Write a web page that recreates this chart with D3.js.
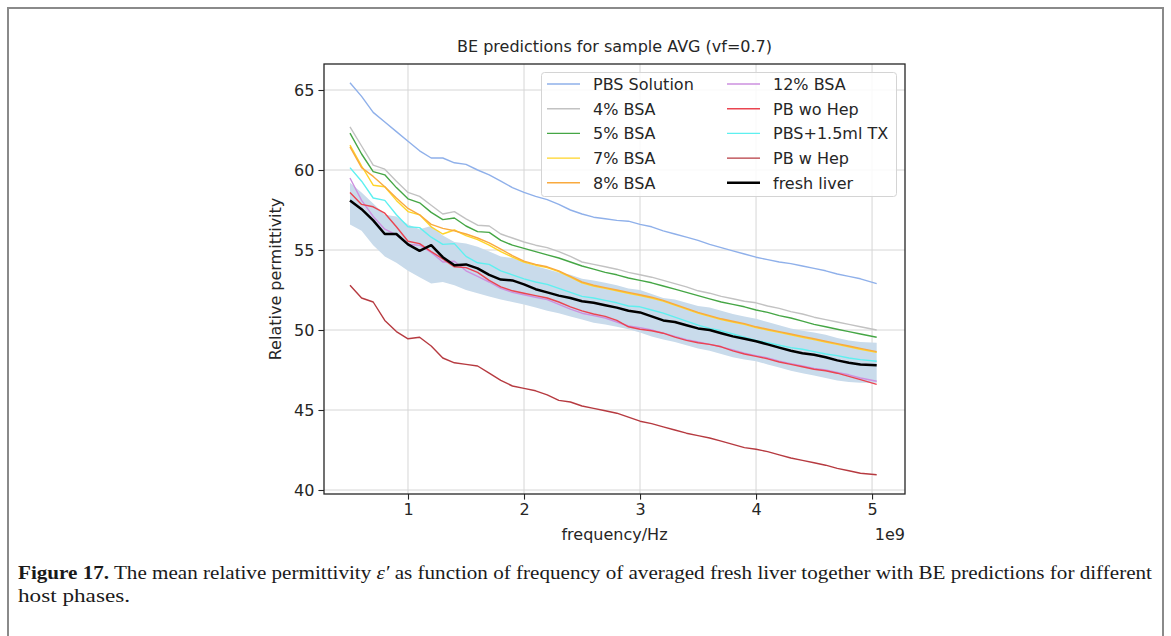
<!DOCTYPE html>
<html>
<head>
<meta charset="utf-8">
<script src="https://cdn.jsdelivr.net/npm/d3@7"></script>
<style>
  html, body { margin: 0; padding: 0; background: #fff; }
  svg { display: block; }
  text { font-family: "DejaVu Sans", sans-serif; fill: #262626; }
  .caption text, text.caption { font-family: "Liberation Serif", "DejaVu Serif", serif; fill: #1a1a1a; }
</style>
</head>
<body>
<div id="chart"></div>
<script>
// frequency in units of 1e9 Hz
var freq = [0.5, 0.6, 0.7, 0.8, 0.9, 1.0, 1.1, 1.2, 1.3, 1.4,
  1.5, 1.6, 1.7, 1.8, 1.9, 2.0, 2.1, 2.2, 2.3, 2.4,
  2.5, 2.6, 2.7, 2.8, 2.9, 3.0, 3.1, 3.2, 3.3, 3.4,
  3.5, 3.6, 3.7, 3.8, 3.9, 4.0, 4.1, 4.2, 4.3, 4.4,
  4.5, 4.6, 4.7, 4.8, 4.9, 5.04];

var pbsSolution = [65.45, 64.6, 63.6, 63.0, 62.4, 61.8, 61.2, 60.75, 60.75, 60.45,
  60.35, 60.0, 59.7, 59.3, 58.9, 58.6, 58.35, 58.15, 57.85, 57.5,
  57.25, 57.05, 56.95, 56.85, 56.8, 56.6, 56.45, 56.2, 56.0, 55.8,
  55.6, 55.35, 55.15, 54.95, 54.75, 54.55, 54.4, 54.25, 54.15, 54.0,
  53.85, 53.7, 53.5, 53.35, 53.2, 52.9];
var bsa4 = [62.7, 61.5, 60.3, 60.05, 59.3, 58.6, 58.35, 57.8, 57.25, 57.4,
  56.95, 56.55, 56.5, 56.0, 55.75, 55.5, 55.3, 55.15, 54.9, 54.6,
  54.25, 54.1, 53.95, 53.8, 53.6, 53.45, 53.3, 53.1, 52.9, 52.7,
  52.45, 52.3, 52.1, 51.95, 51.8, 51.7, 51.5, 51.35, 51.15, 51.0,
  50.8, 50.65, 50.5, 50.35, 50.2, 50.0];
var bsa5 = [62.3, 61.0, 59.9, 59.7, 58.9, 58.2, 57.95, 57.35, 56.9, 57.0,
  56.5, 56.15, 56.1, 55.6, 55.3, 55.1, 54.9, 54.7, 54.5, 54.25,
  54.0, 53.8, 53.6, 53.45, 53.25, 53.1, 52.95, 52.75, 52.55, 52.35,
  52.15, 51.95, 51.75, 51.6, 51.45, 51.25, 51.1, 50.9, 50.75, 50.55,
  50.35, 50.2, 50.05, 49.9, 49.75, 49.55];
var bsa7 = [61.55, 60.25, 59.05, 58.95, 58.1, 57.4, 57.2, 56.45, 56.0, 56.25,
  55.9, 55.65, 55.3, 54.9, 54.55, 54.25, 54.05, 53.9, 53.65, 53.3,
  52.95, 52.75, 52.6, 52.45, 52.3, 52.15, 52.0, 51.8, 51.55, 51.3,
  51.05, 50.85, 50.65, 50.5, 50.35, 50.15, 50.0, 49.85, 49.7, 49.55,
  49.4, 49.25, 49.1, 48.95, 48.8, 48.6];
var bsa8 = [61.45, 60.15, 59.6, 58.95, 58.25, 57.6, 57.2, 56.6, 56.35, 56.2,
  56.0, 55.75, 55.45, 55.05, 54.65, 54.3, 54.1, 53.95, 53.7, 53.35,
  53.0, 52.8, 52.65, 52.5, 52.35, 52.2, 52.05, 51.85, 51.6, 51.35,
  51.1, 50.9, 50.7, 50.55, 50.4, 50.2, 50.05, 49.9, 49.75, 49.6,
  49.45, 49.3, 49.15, 49.0, 48.85, 48.65];
var bsa12 = [59.5, 58.1, 57.1, 56.3, 55.95, 55.35, 55.3, 54.85, 54.25, 54.3,
  53.7, 53.35, 53.0, 52.6, 52.35, 52.2, 52.05, 51.9, 51.6, 51.3,
  51.05, 50.9, 50.75, 50.5, 50.25, 50.15, 50.0, 49.8, 49.6, 49.4,
  49.25, 49.1, 48.95, 48.75, 48.55, 48.4, 48.25, 48.05, 47.9, 47.75,
  47.6, 47.5, 47.35, 47.2, 47.0, 46.8];
var pbWoHep = [58.6, 57.85, 57.7, 57.3, 56.45, 55.55, 55.4, 54.9, 54.45, 53.95,
  53.9, 53.6, 53.1, 52.7, 52.45, 52.3, 52.15, 52.0, 51.75, 51.45,
  51.2, 51.0, 50.85, 50.6, 50.2, 50.05, 49.95, 49.8, 49.55, 49.35,
  49.2, 49.1, 48.95, 48.7, 48.5, 48.35, 48.2, 48.0, 47.85, 47.7,
  47.55, 47.45, 47.3, 47.1, 46.9, 46.6];
var pbsTx = [60.15, 59.3, 58.25, 58.1, 57.2, 56.45, 56.4, 55.8, 55.35, 55.4,
  54.6, 54.2, 54.1, 53.7, 53.45, 53.2, 53.0, 52.85, 52.6, 52.35,
  52.1, 52.0, 51.85, 51.7, 51.5, 51.45, 51.25, 51.05, 50.8, 50.55,
  50.3, 50.1, 49.95, 49.75, 49.55, 49.35, 49.2, 49.05, 48.9, 48.8,
  48.65, 48.5, 48.4, 48.25, 48.15, 48.05];
var pbWHep = [52.8, 52.0, 51.75, 50.6, 49.9, 49.45, 49.55, 49.0, 48.25, 47.95,
  47.85, 47.75, 47.3, 46.85, 46.5, 46.35, 46.2, 45.95, 45.6, 45.5,
  45.25, 45.1, 44.95, 44.8, 44.55, 44.3, 44.15, 43.95, 43.75, 43.55,
  43.4, 43.25, 43.05, 42.85, 42.65, 42.55, 42.4, 42.2, 42.0, 41.85,
  41.7, 41.55, 41.35, 41.2, 41.05, 40.95];
var freshLiver = [58.1, 57.55, 56.85, 56.0, 56.0, 55.35, 54.95, 55.3, 54.55, 54.05,
  54.1, 53.85, 53.45, 53.15, 53.1, 52.85, 52.55, 52.35, 52.15, 52.0,
  51.8, 51.7, 51.55, 51.4, 51.2, 51.1, 50.85, 50.6, 50.5, 50.3,
  50.1, 50.0, 49.8, 49.6, 49.45, 49.3, 49.1, 48.9, 48.7, 48.55,
  48.45, 48.3, 48.1, 47.95, 47.85, 47.8];
// spread of the measured liver (shaded band)
var liverUpper = [59.2, 58.6, 57.9, 57.2, 57.1, 56.6, 56.3, 56.5, 55.9, 55.5,
  55.4, 55.2, 54.9, 54.6, 54.5, 54.25, 54.0, 53.8, 53.6, 53.45,
  53.2, 53.1, 52.95, 52.8, 52.6, 52.5, 52.25, 52.0, 51.9, 51.7,
  51.5, 51.4, 51.2, 51.0, 50.85, 50.7, 50.5, 50.3, 50.1, 49.95,
  49.85, 49.7, 49.5, 49.35, 49.25, 49.2];
var liverLower = [56.6, 56.2, 55.3, 54.6, 54.2, 53.7, 53.3, 52.9, 53.0, 52.8,
  52.5, 52.3, 52.1, 51.9, 51.75, 51.6, 51.4, 51.2, 51.05, 50.85,
  50.65, 50.45, 50.35, 50.2, 50.05, 49.85, 49.6, 49.4, 49.25, 49.05,
  48.85, 48.7, 48.5, 48.3, 48.15, 48.05, 47.85, 47.65, 47.45, 47.3,
  47.15, 47.0, 46.85, 46.75, 46.7, 46.7];

var seriesNames = ["PBS Solution", "4% BSA", "5% BSA", "7% BSA", "8% BSA",
  "12% BSA", "PB wo Hep", "PBS+1.5ml TX", "PB w Hep", "fresh liver"];
var seriesValues = [pbsSolution, bsa4, bsa5, bsa7, bsa8, bsa12, pbWoHep, pbsTx, pbWHep, freshLiver];
var seriesColors = ["#8fb0ea", "#c2c2c2", "#45a645", "#ffd426", "#f9aa3e",
  "#cd90df", "#ea4450", "#5ef0f0", "#b63a40", "#000000"];

var xTicks = [1, 2, 3, 4, 5];
var yTicks = [40, 45, 50, 55, 60, 65];

var W = 1171, H = 636;
var svg = d3.select("#chart").append("svg")
  .attr("width", W)
  .attr("height", H);

// outer figure frame
svg.append("rect")
  .attr("x", 8).attr("y", 8)
  .attr("width", 1155).attr("height", 700)
  .attr("fill", "none")
  .attr("stroke", "#8a8a8a")
  .attr("stroke-width", 2);

var plot = {left: 324, right: 905, top: 64, bottom: 494};

var x = d3.scaleLinear().domain([0.276, 5.284]).range([plot.left, plot.right]);
var y = d3.scaleLinear().domain([39.75, 66.625]).range([plot.bottom, plot.top]);

var g = svg.append("g");

// grid
g.selectAll(".gx").data(xTicks).enter().append("line")
  .attr("x1", function(d) { return x(d); }).attr("x2", function(d) { return x(d); })
  .attr("y1", plot.top).attr("y2", plot.bottom)
  .attr("stroke", "#d6d6d6").attr("stroke-width", 1);
g.selectAll(".gy").data(yTicks).enter().append("line")
  .attr("y1", function(d) { return y(d); }).attr("y2", function(d) { return y(d); })
  .attr("x1", plot.left).attr("x2", plot.right)
  .attr("stroke", "#d6d6d6").attr("stroke-width", 1);

// shaded band around fresh liver
var band = d3.area()
  .x(function(d, i) { return x(freq[i]); })
  .y0(function(d, i) { return y(liverLower[i]); })
  .y1(function(d, i) { return y(liverUpper[i]); });
g.append("path")
  .datum(freq)
  .attr("d", band)
  .attr("fill", "#c9dbeb");

var line = d3.line()
  .x(function(d, i) { return x(freq[i]); })
  .y(function(d) { return y(d); });

seriesValues.forEach(function(vals, k) {
  g.append("path")
    .datum(vals)
    .attr("d", line)
    .attr("fill", "none")
    .attr("stroke", seriesColors[k])
    .attr("stroke-width", k == 9 ? 2.5 : 1.4)
    .attr("stroke-linejoin", "round");
});

// axes
var xAxis = d3.axisBottom(x).tickValues(xTicks).tickSize(5.6).tickPadding(4).tickFormat(d3.format("d"));
var yAxis = d3.axisLeft(y).tickValues(yTicks).tickSize(5.6).tickPadding(4).tickFormat(d3.format("d"));

var gx = svg.append("g").attr("transform", "translate(0," + plot.bottom + ")").call(xAxis);
var gy = svg.append("g").attr("transform", "translate(" + plot.left + ",0)").call(yAxis);
[gx, gy].forEach(function(ax) {
  ax.select(".domain").remove();
  ax.selectAll(".tick line").attr("stroke", "#262626").attr("stroke-width", 1.1);
  ax.selectAll(".tick text").attr("font-size", 16).attr("font-family", "DejaVu Sans").attr("fill", "#262626");
});

// spines
svg.append("rect")
  .attr("x", plot.left).attr("y", plot.top)
  .attr("width", plot.right - plot.left).attr("height", plot.bottom - plot.top)
  .attr("fill", "none")
  .attr("stroke", "#262626")
  .attr("stroke-width", 1.3);

// title and labels
svg.append("text")
  .attr("x", (plot.left + plot.right) / 2).attr("y", 52)
  .attr("text-anchor", "middle")
  .attr("font-size", 16)
  .text("BE predictions for sample AVG (vf=0.7)");

svg.append("text")
  .attr("x", (plot.left + plot.right) / 2).attr("y", 540)
  .attr("text-anchor", "middle")
  .attr("font-size", 16)
  .text("frequency/Hz");

svg.append("text")
  .attr("x", plot.right).attr("y", 540)
  .attr("text-anchor", "end")
  .attr("font-size", 16)
  .text("1e9");

svg.append("text")
  .attr("transform", "translate(281," + (plot.top + plot.bottom) / 2 + ") rotate(-90)")
  .attr("text-anchor", "middle")
  .attr("font-size", 16)
  .text("Relative permittivity");

// legend
var legend = svg.append("g");
legend.append("rect")
  .attr("x", 541.5).attr("y", 72.5)
  .attr("width", 355).attr("height", 124)
  .attr("rx", 3).attr("ry", 3)
  .attr("fill", "#fff").attr("fill-opacity", 0.85)
  .attr("stroke", "#d4d4d4").attr("stroke-width", 1);

var rowY = [84, 108.7, 133.4, 158.1, 182.8];
seriesNames.forEach(function(name, k) {
  var col = Math.floor(k / 5), row = k % 5;
  var lx = col == 0 ? 547 : 727;
  var item = legend.append("g").attr("transform", "translate(" + lx + "," + rowY[row] + ")");
  item.append("line")
    .attr("x1", 0).attr("x2", 33).attr("y1", 0).attr("y2", 0)
    .attr("stroke", seriesColors[k])
    .attr("stroke-width", k == 9 ? 2.5 : 1.4);
  item.append("text")
    .attr("x", 46).attr("y", 5.8)
    .attr("font-size", 16)
    .text(name);
});

// caption
var cap1 = svg.append("text")
  .attr("class", "caption")
  .attr("x", 18).attr("y", 579)
  .attr("font-size", 18)
  .attr("textLength", 1134)
  .attr("lengthAdjust", "spacingAndGlyphs");
cap1.append("tspan").attr("font-weight", "bold").text("Figure 17.");
cap1.append("tspan").text(" The mean relative permittivity ");
cap1.append("tspan").attr("font-style", "italic").text("\u03b5\u2032");
cap1.append("tspan").text(" as function of frequency of averaged fresh liver together with BE predictions for different");

svg.append("text")
  .attr("class", "caption")
  .attr("x", 18).attr("y", 602)
  .attr("font-size", 18)
  .attr("textLength", 112)
  .attr("lengthAdjust", "spacingAndGlyphs")
  .text("host phases.");
</script>
</body>
</html>
